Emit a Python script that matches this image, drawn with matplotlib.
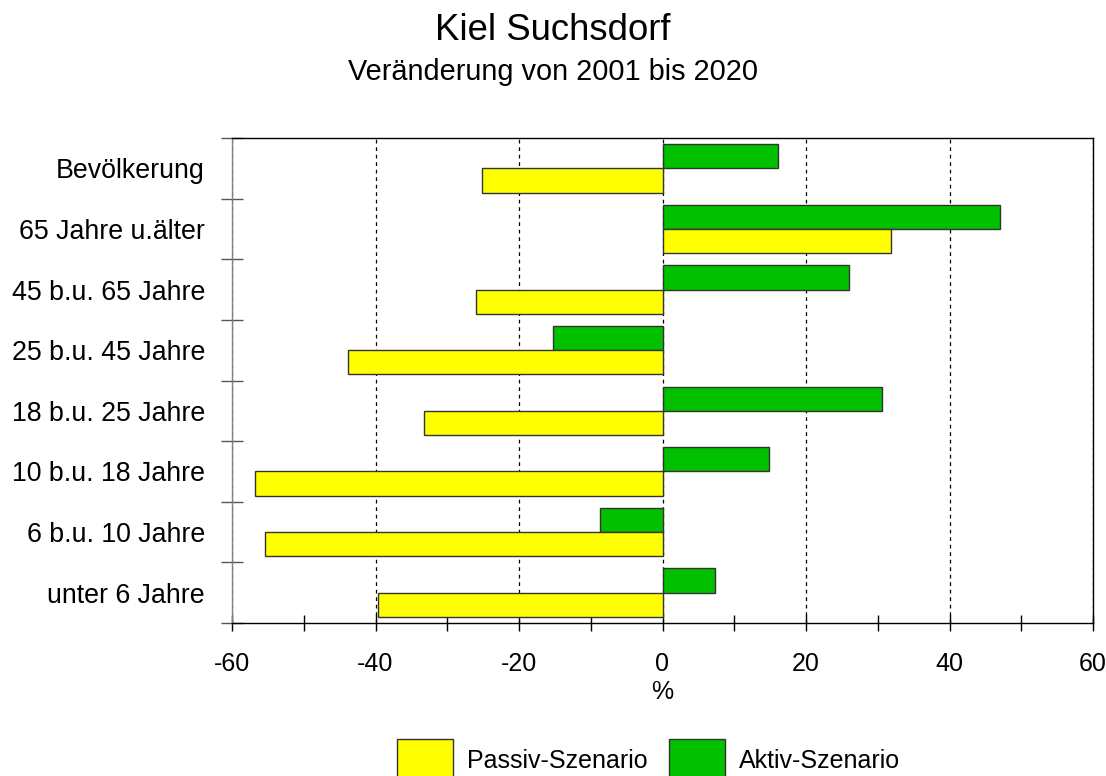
import numpy as np
import matplotlib.pyplot as plt
from matplotlib.patches import Rectangle

# Daten: Veränderung 2001 bis 2020 in %, von unten nach oben
kategorien = ['unter 6 Jahre', '6 b.u. 10 Jahre', '10 b.u. 18 Jahre',
              '18 b.u. 25 Jahre', '25 b.u. 45 Jahre', '45 b.u. 65 Jahre',
              '65 Jahre u.älter', 'Bevölkerung']
passiv = [-39.7, -55.4, -56.8, -33.3, -43.9, -26.0, 31.9, -25.1]
aktiv = [7.3, -8.7, 14.9, 30.6, -15.2, 26.0, 47.1, 16.1]

GELB = '#ffff00'
GRUEN = '#00c000'
KANTE = '#333333'

plt.rcParams['font.family'] = ['Liberation Sans', 'DejaVu Sans']
plt.rcParams['axes.unicode_minus'] = False

fig = plt.figure(figsize=(11.06, 7.76), dpi=100)
ax = fig.add_axes([232 / 1106, 1 - 623 / 776, 861 / 1106, 485 / 776])

y = np.arange(len(kategorien))
ax.barh(y + 0.2, aktiv, height=0.4, color=GRUEN, edgecolor=KANTE, lw=1, zorder=3)
ax.barh(y - 0.2, passiv, height=0.4, color=GELB, edgecolor=KANTE, lw=1, zorder=3)

ax.set_xlim(-60, 60)
ax.set_ylim(-0.5, len(kategorien) - 0.5)

# x-Achse
ax.set_xticks(np.arange(-60, 61, 20))
ax.set_xticks(np.arange(-50, 60, 20), minor=True)
ax.tick_params(axis='x', which='both', direction='inout', length=11.5,
               width=1, color='black', labelsize=18, pad=15)
ax.xaxis.grid(True, which='major', color='black', lw=0.9,
              linestyle=(0, (3, 3)), zorder=1)

# y-Achse: Beschriftung mittig, Striche an den Klassengrenzen
ax.set_yticks(y)
ax.set_yticklabels(kategorien)
ax.set_yticks(np.arange(-0.5, len(kategorien), 1), minor=True)
ax.tick_params(axis='y', which='major', length=0, labelsize=19.3, pad=19.5)
ax.tick_params(axis='y', which='minor', direction='inout', length=16,
               width=1, color='#555555')

for s in ['top', 'right', 'bottom']:
    ax.spines[s].set_color('black')
    ax.spines[s].set_linewidth(1)
ax.spines['left'].set_color('#808080')
ax.spines['left'].set_linewidth(1)

ax.set_xlabel('%', fontsize=18)
ax.xaxis.set_label_coords(0.5, (623 - 692) / 485)
ax.xaxis.label.set_va('center')

# Titel
fig.text(0.5, 1 - 40 / 776, 'Kiel Suchsdorf', ha='center', va='baseline',
         fontsize=26.3)
fig.text(0.5, 1 - 80 / 776, 'Veränderung von 2001 bis 2020', ha='center',
         va='baseline', fontsize=20.8)

# Legende (unten, Kästchen laufen über den Rand)
for x0, farbe, text in [(397, GELB, 'Passiv-Szenario'),
                        (669, GRUEN, 'Aktiv-Szenario')]:
    fig.patches.append(Rectangle((x0 / 1106, -0.03), 56 / 1106,
                                 0.03 + 37 / 776, facecolor=farbe,
                                 edgecolor=KANTE, lw=1,
                                 transform=fig.transFigure, figure=fig))
    fig.text((x0 + 70) / 1106, 8 / 776, text, ha='left', va='baseline',
             fontsize=18)

fig.savefig('out.png', dpi=100)
